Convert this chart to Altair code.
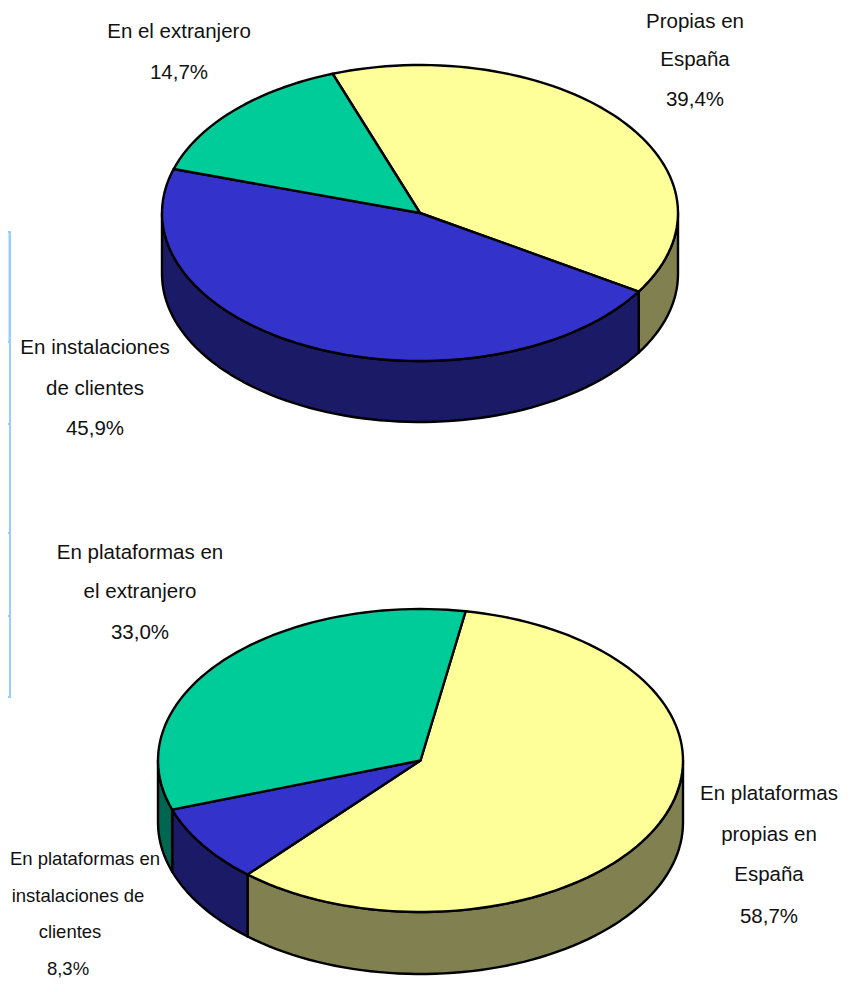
import math
import altair as alt
import pandas as pd

top_parts = ["Propias en España", "En instalaciones de clientes", "En el extranjero"]
top_shares = [39.4, 45.9, 14.7]
bottom_parts = ["En plataformas propias en España", "En plataformas en instalaciones de clientes", "En plataformas en el extranjero"]
bottom_shares = [58.7, 8.3, 33.0]

top_label_lines = [["En el extranjero", "14,7%"], ["Propias en", "España", "39,4%"], ["En instalaciones", "de clientes", "45,9%"]]
bottom_label_lines = [["En plataformas en", "el extranjero", "33,0%"],
                      ["En plataformas", "propias en", "España", "58,7%"],
                      ["En plataformas en", "instalaciones de", "clientes", "8,3%"]]

face_colors = ["#FFFF99", "#3333CC", "#00CC99"]
wall_colors = ["#808050", "#1A1A66", "#006650"]

W, H = 839, 976
X = alt.X("x:Q", axis=None, scale=alt.Scale(domain=[8, 847], range=[0, W]))
Y = alt.Y("y:Q", axis=None, scale=alt.Scale(domain=[8, 984], range=[0, H]))


def ell(p, a, dz=0.0):
    r = math.radians(a)
    return (p["cx"] + p["rx"] * math.sin(r), p["cy"] - p["ry"] * math.cos(r) + dz)


def arc(p, a, b, dz=0.0):
    n = max(2, int(abs(b - a) / 2) + 1)
    return [ell(p, a + (b - a) * k / (n - 1), dz) for k in range(n)]


def poly(points, color):
    df = pd.DataFrame(points, columns=["x", "y"])
    df["i"] = range(len(df))
    return alt.Chart(df).mark_line(
        interpolate="linear-closed", fill=color, stroke="black", strokeWidth=2.4, strokeJoin="round"
    ).encode(x=X, y=Y, order="i:Q")


def pie(shares, p):
    layers, tops = [], []
    a = p["start"]
    for k, s in enumerate(shares):
        b = a + s * 3.6
        lo, hi = max(a, 90), min(b, 270)
        if hi > lo:
            layers.append(poly(arc(p, lo, hi) + arc(p, hi, lo, p["depth"]), wall_colors[k]))
        tops.append(poly([(p["cx"], p["cy"])] + arc(p, a, b), face_colors[k]))
        a = b
    return layers + tops


def labels(lines, centers, ys, size=20.5):
    out = []
    for block, cx, yy in zip(lines, centers, ys):
        for j, (t, y) in enumerate(zip(block, yy)):
            c = cx[j] if isinstance(cx, list) else cx
            fs = 18.5 if isinstance(cx, list) else size
            out.append(
                alt.Chart(pd.DataFrame({"t": [t]})).mark_text(
                    font="Liberation Sans", fontSize=fs, color="#111111", align="center", baseline="middle"
                ).encode(x=alt.value(c - 8), y=alt.value(y - 8), text="t:N")
            )
    return out


# Table fragment on the left edge of the page
table_y0 = [232, 342, 424, 533, 616]
table_y1 = [342, 424, 533, 616, 697]
table_fill = ["#CCE8FF", "#FFFFFF", "#FFFFFF", "#FFFFFF", "#FFFFFF"]
table = alt.Chart(pd.DataFrame({"y": table_y0, "y2": table_y1, "f": table_fill, "x": [0] * 5, "x2": [10] * 5})).mark_rect(
    stroke="#99CCFF", strokeWidth=2
).encode(x=X, x2="x2:Q", y=Y, y2="y2:Q", fill=alt.Fill("f:N", scale=None))

top_geo = dict(cx=420, cy=213, rx=258, ry=148, depth=61, start=-19.8)
bot_geo = dict(cx=420.5, cy=760.5, rx=262.5, ry=151.5, depth=62, start=9.9)

layers = [table] + pie(top_shares, top_geo) + pie(bottom_shares, bot_geo)
layers += labels(top_label_lines, [179, 695, 95], [[32, 73], [22, 60, 100], [348, 389, 429]])
layers += labels(bottom_label_lines, [140, 769, [85, 78, 70, 68]], [[553, 592, 633], [794, 835, 875, 917], [859, 896, 932, 969]])

chart = alt.layer(*layers).properties(
    width=W, height=H, padding=0, autosize=alt.AutoSizeParams(type="none")
).configure_view(stroke=None)

chart.save("out.html", embed_options={"renderer": "svg", "actions": False})
